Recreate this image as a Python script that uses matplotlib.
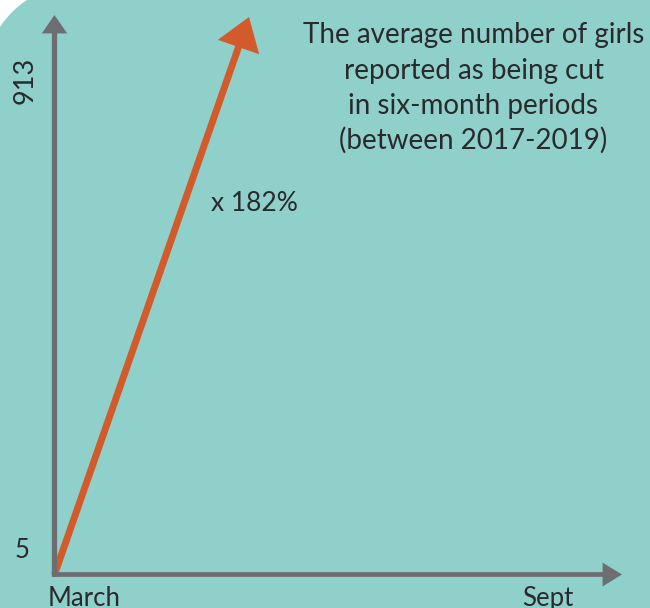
import numpy as np
import matplotlib
matplotlib.use("Agg")
import matplotlib.pyplot as plt
from matplotlib.patches import FancyArrowPatch, Polygon, ArrowStyle

# ---- data ----
periods = ["March", "Sept"]          # x categories
values = [5, 913]                    # average number of girls reported
growth_label = "x 182%"
title_lines = ["The average number of girls",
               "reported as being cut",
               "in six-month periods",
               "(between 2017-2019)"]

# ---- style ----
BG = "#8FD0CB"
GRAY = "#6D6E71"
ORANGE = "#D35A2B"
TXT = "#2A2A2C"
FONT = ["Lato", "DejaVu Sans"]
WEIGHT = "normal"

W, H = 650, 608
fig = plt.figure(figsize=(W / 100, H / 100), dpi=100, facecolor=BG)
ax = fig.add_axes([0, 0, 1, 1])
ax.set_facecolor(BG)
ax.axis("off")

# scales: March=0 at px 54.5, Sept=1 at px 548; value 5 at px 574.5 (from top), 913 at px 17
x0_px, x1_px = 54.5, 548.0
y5_px, ytop_px = 574.5, 17.0
xs = x1_px - x0_px
ys = (y5_px - ytop_px) / (values[1] - values[0])
ax.set_xlim((0 - x0_px) / xs, (W - x0_px) / xs)
ax.set_ylim(values[0] - (H - y5_px) / ys, values[1] + ytop_px / ys)

def vx(px):
    return (px - x0_px) / xs

def vy(py):
    return values[0] + (y5_px - py) / ys

# white rounded corner at top-left (card edge)
cx, cy, r = 80.0, 80.0, 96.0
yint = cy - np.sqrt(r**2 - cx**2)
xint = cx - np.sqrt(r**2 - cy**2)
th1 = np.arctan2(yint - cy, 0 - cx)
th2 = np.arctan2(0 - cy, xint - cx)
ths = np.linspace(th1, th2, 40)
arc = [(cx + r * np.cos(th), cy + r * np.sin(th)) for th in ths]
poly = [(0, 0), (0, yint)] + arc + [(xint, 0)]
poly_fig = [(px / W, 1 - py / H) for px, py in poly]
fig.patches.append(Polygon(poly_fig, closed=True, transform=fig.transFigure,
                           facecolor="white", edgecolor="none", zorder=0))

# growth arrow (data)
arrow_end_x = vx(249)
orange = FancyArrowPatch((0, values[0]), (arrow_end_x, values[1]),
                         arrowstyle=ArrowStyle("-|>", head_length=16, head_width=11),
                         mutation_scale=1, lw=5.0, color=ORANGE,
                         shrinkA=0, shrinkB=0, joinstyle="miter", capstyle="butt", zorder=2)
ax.add_patch(orange)

# axes arrows
yax = FancyArrowPatch((0, vy(577)), (0, vy(15)),
                      arrowstyle=ArrowStyle("-|>", head_length=8, head_width=5.5),
                      mutation_scale=1, lw=3.8, color=GRAY, shrinkA=0, shrinkB=0,
                      joinstyle="miter", capstyle="butt", zorder=3)
xax = FancyArrowPatch((vx(52), values[0]), (vx(622), values[0]),
                      arrowstyle=ArrowStyle("-|>", head_length=9, head_width=5.5),
                      mutation_scale=1, lw=3.4, color=GRAY, shrinkA=0, shrinkB=0,
                      joinstyle="miter", capstyle="butt", zorder=3)
ax.add_patch(yax)
ax.add_patch(xax)

# labels
ax.text(vx(48), vy(606), periods[0], ha="left", va="baseline", fontsize=18.5,
        color=TXT, family=FONT, fontweight=WEIGHT)
ax.text(1.0, vy(606), periods[1], ha="center", va="baseline", fontsize=18.5,
        color=TXT, family=FONT, fontweight=WEIGHT)
ax.text(vx(22), vy(550.5), str(values[0]), ha="center", va="center", fontsize=18.5,
        color=TXT, family=FONT, fontweight=WEIGHT)
ax.text(vx(25.5), vy(80), str(values[1]), ha="center", va="center", fontsize=19.5,
        rotation=90, color=TXT, family=FONT, fontweight=WEIGHT)
ax.text(vx(211), vy(211), growth_label, ha="left", va="baseline", fontsize=19,
        color=TXT, family=FONT, fontweight=WEIGHT)
baselines = [43.5, 79.5, 114, 149]
for line, b in zip(title_lines, baselines):
    ax.text(vx(473.5), vy(b), line, ha="center", va="baseline",
            fontsize=20, color=TXT, family=FONT, fontweight=WEIGHT)

fig.savefig("out.png", dpi=100, facecolor=BG)
